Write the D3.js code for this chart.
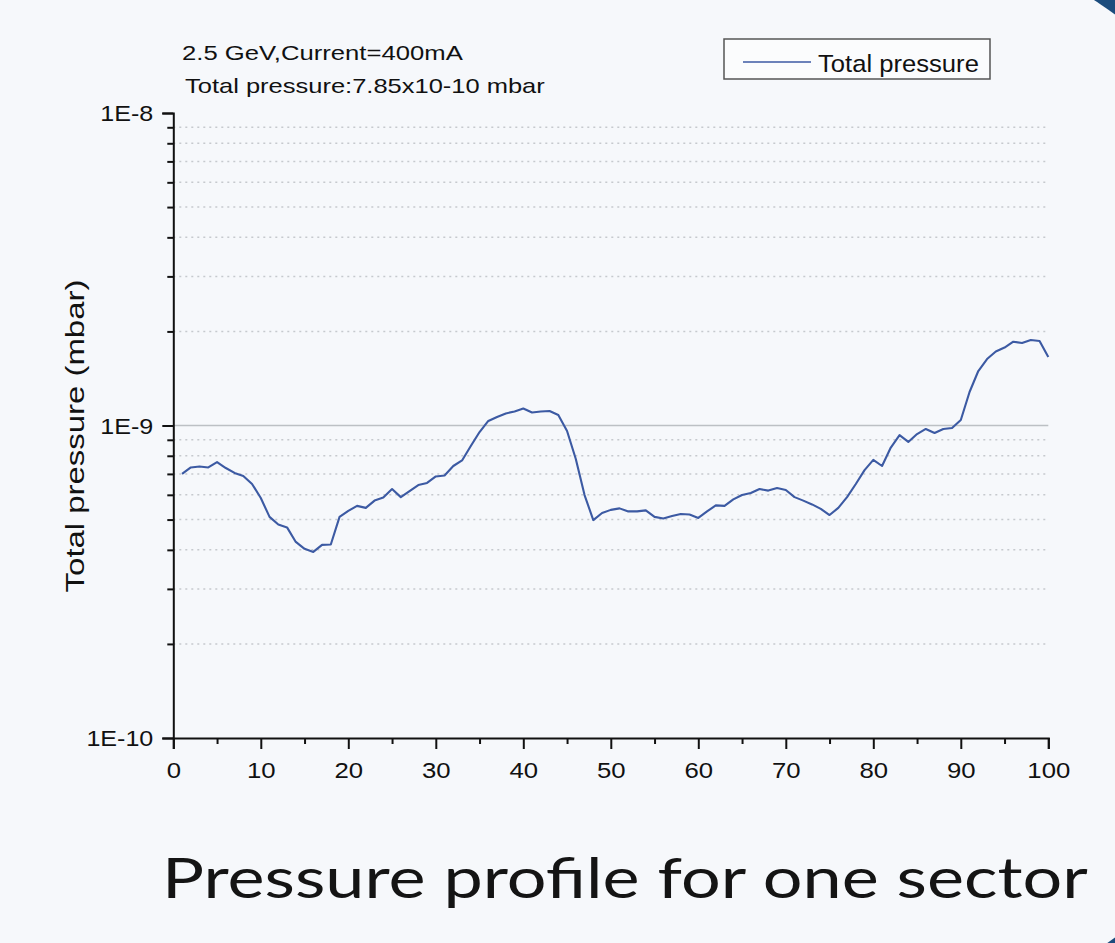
<!DOCTYPE html>
<html>
<head>
<meta charset="utf-8">
<script src="https://cdn.jsdelivr.net/npm/d3@7"></script>
<style>
  html, body { margin: 0; padding: 0; background: #f6f8fb; }
  svg { display: block; }
</style>
</head>
<body>
<svg id="chart" width="1115" height="943"></svg>
<script>
// ---- data ----
const positions = d3.range(1, 101);
const totalPressure = [
  7.00e-10, 7.34e-10, 7.39e-10, 7.34e-10, 7.64e-10, 7.31e-10, 7.05e-10, 6.89e-10, 6.50e-10, 5.86e-10,
  5.10e-10, 4.82e-10, 4.72e-10, 4.24e-10, 4.03e-10, 3.94e-10, 4.15e-10, 4.16e-10, 5.10e-10, 5.33e-10,
  5.53e-10, 5.45e-10, 5.75e-10, 5.88e-10, 6.26e-10, 5.90e-10, 6.17e-10, 6.45e-10, 6.55e-10, 6.87e-10,
  6.92e-10, 7.42e-10, 7.73e-10, 8.60e-10, 9.53e-10, 1.034e-9, 1.065e-9, 1.093e-9, 1.109e-9, 1.134e-9,
  1.101e-9, 1.109e-9, 1.113e-9, 1.080e-9, 9.60e-10, 7.81e-10, 5.99e-10, 4.98e-10, 5.25e-10, 5.37e-10,
  5.43e-10, 5.31e-10, 5.31e-10, 5.35e-10, 5.10e-10, 5.04e-10, 5.13e-10, 5.21e-10, 5.19e-10, 5.06e-10,
  5.31e-10, 5.55e-10, 5.53e-10, 5.80e-10, 5.99e-10, 6.08e-10, 6.26e-10, 6.19e-10, 6.31e-10, 6.22e-10,
  5.90e-10, 5.75e-10, 5.59e-10, 5.41e-10, 5.17e-10, 5.45e-10, 5.90e-10, 6.50e-10, 7.20e-10, 7.76e-10,
  7.42e-10, 8.50e-10, 9.32e-10, 8.86e-10, 9.39e-10, 9.75e-10, 9.46e-10, 9.75e-10, 9.82e-10, 1.041e-9,
  1.280e-9, 1.494e-9, 1.632e-9, 1.725e-9, 1.776e-9, 1.854e-9, 1.837e-9, 1.878e-9, 1.864e-9, 1.656e-9
];
const xMajorTicks = [0, 10, 20, 30, 40, 50, 60, 70, 80, 90, 100];
const xMinorTicks = [5, 15, 25, 35, 45, 55, 65, 75, 85, 95];
const yMajorTicks = [1e-10, 1e-9, 1e-8];
const yMajorLabels = ["1E-10", "1E-9", "1E-8"];
const yMinorTicks = [2e-10, 3e-10, 4e-10, 5e-10, 6e-10, 7e-10, 8e-10, 9e-10,
                     2e-9, 3e-9, 4e-9, 5e-9, 6e-9, 7e-9, 8e-9, 9e-9];
const annotationLines = ["2.5 GeV,Current=400mA", "Total pressure:7.85x10-10 mbar"];
const legendLabel = "Total pressure";
const yTitle = "Total pressure (mbar)";
const slideTitle = "Pressure profile for one sector";

// ---- setup ----
const W = 1115, H = 943;
const svg = d3.select("#chart");
const BG = "#f6f8fb";
const LINE = "#3c5aa3";
const FONT = "'Liberation Sans', Arial, sans-serif";
const INK = "#111";

svg.append("rect").attr("width", W).attr("height", H).attr("fill", BG);

// decorative corner (slide background)
const clip = svg.append("defs").append("clipPath").attr("id", "cornerClip");
clip.append("rect").attr("x", 1000).attr("y", 0).attr("width", 115).attr("height", H);
const corner = svg.append("g").attr("clip-path", "url(#cornerClip)");
corner.append("rect").attr("x", 1000).attr("y", 0).attr("width", 115).attr("height", H).attr("fill", "#1b4c7d");
corner.append("circle").attr("cx", 784).attr("cy", 476).attr("r", 568).attr("fill", BG);

const x = d3.scaleLinear().domain([0, 100]).range([173.3, 1048.3]);
const y = d3.scaleLog().domain([1e-10, 1e-8]).range([738, 113]);

// helper: stretch text horizontally to a target width
function fitWidth(sel, target) {
  sel.each(function () {
    const len = this.getComputedTextLength();
    const s = target / len;
    const base = this.getAttribute("data-base") || "";
    this.setAttribute("transform", base + ` scale(${s},1)`);
  });
}
function stretch(sel, s) {
  sel.each(function () {
    const base = this.getAttribute("data-base") || "";
    this.setAttribute("transform", base + ` scale(${s},1)`);
  });
}

// ---- grid ----
const grid = svg.append("g");
grid.selectAll("line.minor").data(yMinorTicks).join("line")
  .attr("x1", x(0)).attr("x2", x(100))
  .attr("y1", d => y(d)).attr("y2", d => y(d))
  .attr("stroke", "#c6c9ce").attr("stroke-width", 1.5)
  .attr("stroke-dasharray", "2,4");
grid.append("line")
  .attr("x1", x(0)).attr("x2", x(100))
  .attr("y1", y(1e-9)).attr("y2", y(1e-9))
  .attr("stroke", "#bcc0c4").attr("stroke-width", 1.6);

// ---- line ----
const lineGen = d3.line().x((d, i) => x(positions[i])).y(d => y(d));
svg.append("path").datum(totalPressure)
  .attr("d", lineGen)
  .attr("fill", "none").attr("stroke", LINE).attr("stroke-width", 2.1)
  .attr("stroke-linejoin", "round");

// ---- axes ----
const xAxisG = svg.append("g").attr("transform", `translate(0,${y(1e-10)})`);
xAxisG.call(d3.axisBottom(x).tickValues(xMajorTicks).tickSize(11).tickFormat(d3.format("d")));
const xMinorG = svg.append("g").attr("transform", `translate(0,${y(1e-10)})`);
xMinorG.call(d3.axisBottom(x).tickValues(xMinorTicks).tickSize(6).tickFormat(""));
xMinorG.select(".domain").remove();

const yAxisG = svg.append("g").attr("transform", `translate(${x(0)},0)`);
yAxisG.call(d3.axisLeft(y).tickValues(yMajorTicks).tickSize(11)
  .tickFormat(d => yMajorLabels[yMajorTicks.indexOf(d)]));
const yMinorG = svg.append("g").attr("transform", `translate(${x(0)},0)`);
yMinorG.call(d3.axisLeft(y).tickValues(yMinorTicks).tickSize(6).tickFormat(""));
yMinorG.select(".domain").remove();

[xAxisG, xMinorG, yAxisG, yMinorG].forEach(g => {
  g.selectAll(".domain").attr("stroke", INK).attr("stroke-width", 2);
  g.selectAll(".tick line").attr("stroke", INK).attr("stroke-width", 2);
});

xAxisG.selectAll(".tick text")
  .attr("font-family", FONT).attr("font-size", 23).attr("fill", INK)
  .attr("dy", null).attr("y", 0)
  .attr("data-base", "translate(0,40)")
  .call(stretch, 1.12);
yAxisG.selectAll(".tick text")
  .attr("font-family", FONT).attr("font-size", 22).attr("fill", INK)
  .attr("x", 0).attr("dy", "0.36em")
  .attr("data-base", "translate(-20,0)")
  .call(stretch, 1.14);

// ---- y title ----
svg.append("text")
  .attr("font-family", FONT).attr("font-size", 25).attr("fill", INK)
  .attr("text-anchor", "middle")
  .attr("data-base", "translate(84,436) rotate(-90)")
  .text(yTitle)
  .call(fitWidth, 313);

// ---- annotation ----
const annX = [182, 185], annY = [60, 93], annW = [281, 360];
annotationLines.forEach((t, i) => {
  svg.append("text")
    .attr("font-family", FONT).attr("font-size", 21).attr("fill", INK)
    .attr("data-base", `translate(${annX[i]},${annY[i]})`)
    .text(t)
    .call(fitWidth, annW[i]);
});

// ---- legend ----
const lg = svg.append("g");
lg.append("rect").attr("x", 724).attr("y", 39).attr("width", 266).attr("height", 40)
  .attr("fill", "#fbfcfd").attr("stroke", "#555").attr("stroke-width", 1.5);
lg.append("line").attr("x1", 743).attr("x2", 811).attr("y1", 62).attr("y2", 62)
  .attr("stroke", LINE).attr("stroke-width", 1.6);
lg.append("text")
  .attr("font-family", FONT).attr("font-size", 24).attr("fill", INK)
  .attr("data-base", "translate(818,72)")
  .text(legendLabel)
  .call(fitWidth, 161);

// ---- slide title ----
svg.append("text")
  .attr("font-family", "Lato, 'Open Sans', sans-serif").attr("font-size", 56).attr("fill", "#141414")
  .attr("data-base", "translate(162,898)")
  .text(slideTitle)
  .call(fitWidth, 926);
</script>
</body>
</html>
